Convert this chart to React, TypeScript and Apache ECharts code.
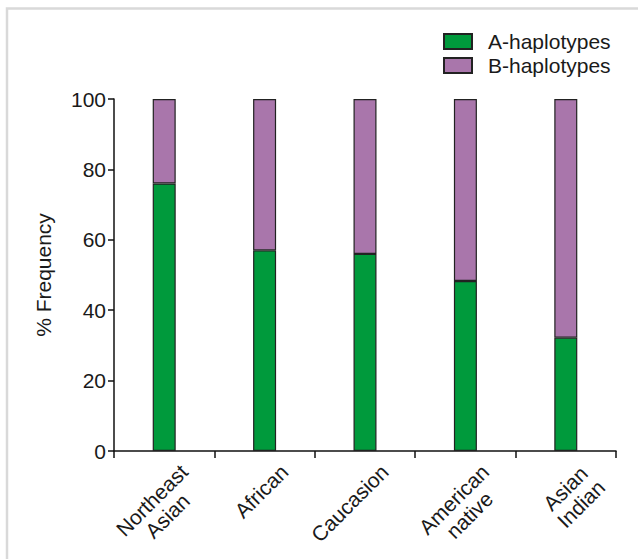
import React, { useEffect, useRef } from "react";
import * as echarts from "echarts";

const categories = ["Northeast\nAsian", "African", "Caucasion", "American\nnative", "Asian\nIndian"];
const aHaplotypes = [76, 57, 56, 48.3, 32.2];
const bHaplotypes = [24, 43, 44, 51.7, 67.8];
const yTicks = { min: 0, max: 100, interval: 20 };

const FONT = "'Liberation Sans', Arial, sans-serif";
const TEXT = "#1a1a1a";

export default function App() {
  const ref = useRef<HTMLDivElement>(null);
  useEffect(() => {
    const chart = echarts.init(ref.current!, null, { renderer: "svg" });
    chart.setOption({
      animation: false,
      backgroundColor: "#ffffff",
      textStyle: { fontFamily: FONT },
      graphic: [
        {
          type: "rect",
          shape: { x: 7, y: 8.5, width: 700, height: 600 },
          style: { fill: "none", stroke: "#d9d9d9", lineWidth: 2.5 },
          silent: true,
          z: -10,
        },
      ],
      legend: {
        orient: "vertical",
        left: 443,
        top: 31,
        padding: 0,
        itemWidth: 28,
        itemHeight: 15,
        itemGap: 3,
        icon: "rect",
        textStyle: { fontFamily: FONT, fontSize: 21, color: TEXT, padding: [0, 0, 0, 11] },
        data: ["A-haplotypes", "B-haplotypes"],
      },
      grid: {
        left: 114,
        right: 22,
        top: 99,
        bottom: 108,
        containLabel: false,
        outerBoundsMode: "none",
      },
      xAxis: {
        type: "category",
        data: categories,
        boundaryGap: true,
        axisLine: { lineStyle: { color: "#111", width: 1.5 } },
        axisTick: { show: true, length: 7, lineStyle: { color: "#111", width: 1.5 } },
        axisLabel: {
          rotate: 45,
          interval: 0,
          margin: 10,
          color: TEXT,
          verticalAlign: "top",
          padding: [8, -9, 0, 0],
          formatter: (v: string) => v.split("\n").map((s) => `{c|${s}}`).join("\n"),
          rich: {
            c: { fontFamily: FONT, fontSize: 21, lineHeight: 22, color: TEXT, align: "center" },
          },
        },
      },
      yAxis: {
        type: "value",
        min: yTicks.min,
        max: yTicks.max,
        interval: yTicks.interval,
        name: "% Frequency",
        nameLocation: "middle",
        nameGap: 60,
        nameTextStyle: { fontFamily: FONT, fontSize: 21, color: TEXT },
        axisLine: { show: true, lineStyle: { color: "#111", width: 1.5 } },
        axisTick: { show: true, length: 6, lineStyle: { color: "#111", width: 1.5 } },
        axisLabel: { margin: 8, fontFamily: FONT, fontSize: 21, color: TEXT },
        splitLine: { show: false },
      },
      series: [
        {
          name: "A-haplotypes",
          type: "bar",
          stack: "total",
          barWidth: 23,
          data: aHaplotypes,
          itemStyle: { color: "#009a3c", borderColor: "#222", borderWidth: 1.2 },
        },
        {
          name: "B-haplotypes",
          type: "bar",
          stack: "total",
          barWidth: 23,
          data: bHaplotypes,
          itemStyle: { color: "#a976ab", borderColor: "#222", borderWidth: 1.2 },
        },
      ],
    });
    return () => chart.dispose();
  }, []);
  return (
    <div
      ref={ref}
      style={{ position: "fixed", left: 0, top: 0, width: 638, height: 559 }}
    />
  );
}
